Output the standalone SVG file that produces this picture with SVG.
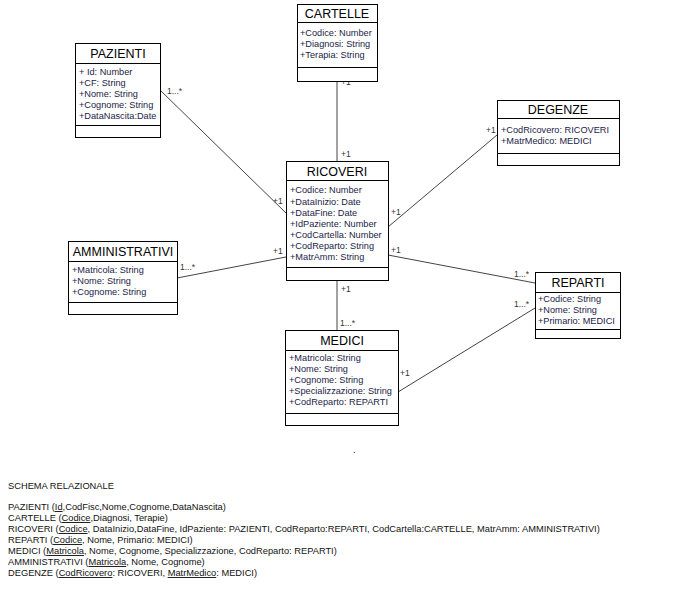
<svg xmlns="http://www.w3.org/2000/svg" width="700" height="596" viewBox="0 0 700 596">
<style>
.box{fill:#fff;stroke:#000;stroke-width:1}
.div{stroke:#000;stroke-width:1}
.t{font-family:"Liberation Sans",Arial,sans-serif;font-size:12.5px;fill:#000;text-anchor:middle}
.a{font-family:"Liberation Sans",Arial,sans-serif;font-size:9.2px;fill:#1c1c48}
.m{font-family:"Liberation Sans",Arial,sans-serif;font-size:8.5px;fill:#333}
.c{stroke:#444;stroke-width:1;fill:none}
.s{font-family:"Liberation Sans",Arial,sans-serif;font-size:9.3px;fill:#111}
.u{text-decoration:underline}
</style>
<rect width="700" height="596" fill="#fff"/>
<g id="connectors">
<line class="c" x1="337" y1="81" x2="337" y2="161"/>
<line class="c" x1="160" y1="90" x2="286" y2="213"/>
<line class="c" x1="497" y1="135" x2="388" y2="227"/>
<line class="c" x1="388" y1="255" x2="535" y2="283"/>
<line class="c" x1="398" y1="392" x2="535" y2="308"/>
<line class="c" x1="337" y1="280" x2="337" y2="330"/>
<line class="c" x1="177" y1="278" x2="286" y2="257"/>
<text class="m" x="341" y="85">+1</text>
<text class="m" x="341" y="157">+1</text>
<text class="m" x="167" y="94">1...*</text>
<text class="m" x="273" y="204">+1</text>
<text class="m" x="486" y="133">+1</text>
<text class="m" x="391" y="215">+1</text>
<text class="m" x="391" y="253">+1</text>
<text class="m" x="514" y="277">1...*</text>
<text class="m" x="514" y="307">1...*</text>
<text class="m" x="400" y="376">+1</text>
<text class="m" x="341" y="292">+1</text>
<text class="m" x="340" y="326">1...*</text>
<text class="m" x="180" y="270">1...*</text>
<text class="m" x="273" y="254">+1</text>
</g>
<g id="PAZIENTI">
<rect class="box" x="75.5" y="43.5" width="85" height="94"/>
<line class="div" x1="75.5" y1="63.5" x2="160.5" y2="63.5"/>
<line class="div" x1="75.5" y1="125.5" x2="160.5" y2="125.5"/>
<text class="t" x="118" y="58">PAZIENTI</text>
<text class="a" x="79" y="75">+ Id: Number</text>
<text class="a" x="79" y="86">+CF: String</text>
<text class="a" x="79" y="97">+Nome: String</text>
<text class="a" x="79" y="108">+Cognome: String</text>
<text class="a" x="79" y="119" fill="#34508c">+DataNascita:Date</text>
</g>
<g id="CARTELLE">
<rect class="box" x="297.5" y="4.5" width="80" height="77"/>
<line class="div" x1="297.5" y1="22.5" x2="377.5" y2="22.5"/>
<line class="div" x1="297.5" y1="67.5" x2="377.5" y2="67.5"/>
<text class="t" x="337" y="18">CARTELLE</text>
<text class="a" x="300" y="36">+Codice: Number</text>
<text class="a" x="300" y="47">+Diagnosi: String</text>
<text class="a" x="300" y="58">+Terapia: String</text>
</g>
<g id="DEGENZE">
<rect class="box" x="497.5" y="100.5" width="122" height="65"/>
<line class="div" x1="497.5" y1="118.5" x2="619.5" y2="118.5"/>
<line class="div" x1="497.5" y1="153.5" x2="619.5" y2="153.5"/>
<text class="t" x="558" y="114">DEGENZE</text>
<text class="a" x="501" y="133">+CodRicovero: RICOVERI</text>
<text class="a" x="501" y="144">+MatrMedico: MEDICI</text>
</g>
<g id="RICOVERI">
<rect class="box" x="286.5" y="161.5" width="102" height="119"/>
<line class="div" x1="286.5" y1="180.5" x2="388.5" y2="180.5"/>
<line class="div" x1="286.5" y1="267.5" x2="388.5" y2="267.5"/>
<text class="t" x="337" y="176">RICOVERI</text>
<text class="a" x="290" y="193">+Codice: Number</text>
<text class="a" x="290" y="205">+DataInizio: Date</text>
<text class="a" x="290" y="216">+DataFine: Date</text>
<text class="a" x="290" y="227">+IdPaziente: Number</text>
<text class="a" x="290" y="238">+CodCartella: Number</text>
<text class="a" x="290" y="249">+CodReparto: String</text>
<text class="a" x="290" y="260">+MatrAmm: String</text>
</g>
<g id="AMMINISTRATIVI">
<rect class="box" x="68.5" y="241.5" width="109" height="73"/>
<line class="div" x1="68.5" y1="261.5" x2="177.5" y2="261.5"/>
<line class="div" x1="68.5" y1="302.5" x2="177.5" y2="302.5"/>
<text class="t" x="123" y="256">AMMINISTRATIVI</text>
<text class="a" x="72" y="273">+Matricola: String</text>
<text class="a" x="72" y="284">+Nome: String</text>
<text class="a" x="72" y="295">+Cognome: String</text>
</g>
<g id="REPARTI">
<rect class="box" x="535.5" y="272.5" width="85" height="66"/>
<line class="div" x1="535.5" y1="292.5" x2="620.5" y2="292.5"/>
<line class="div" x1="535.5" y1="329.5" x2="620.5" y2="329.5"/>
<text class="t" x="578" y="287">REPARTI</text>
<text class="a" x="538" y="302">+Codice: String</text>
<text class="a" x="538" y="313">+Nome: String</text>
<text class="a" x="538" y="324">+Primario: MEDICI</text>
</g>
<g id="MEDICI">
<rect class="box" x="285.5" y="330.5" width="113" height="95"/>
<line class="div" x1="285.5" y1="350.5" x2="398.5" y2="350.5"/>
<line class="div" x1="285.5" y1="413.5" x2="398.5" y2="413.5"/>
<text class="t" x="342" y="345">MEDICI</text>
<text class="a" x="289" y="361">+Matricola: String</text>
<text class="a" x="289" y="372">+Nome: String</text>
<text class="a" x="289" y="383">+Cognome: String</text>
<text class="a" x="289" y="394">+Specializzazione: String</text>
<text class="a" x="289" y="405">+CodReparto: REPARTI</text>
</g>
<text class="s" x="353" y="453">.</text>
<g id="schema">
<text class="s" x="8" y="489">SCHEMA RELAZIONALE</text>
<text class="s" x="8" y="510">PAZIENTI (<tspan class="u">Id</tspan>,CodFisc,Nome,Cognome,DataNascita)</text>
<text class="s" x="8" y="521">CARTELLE (<tspan class="u">Codice</tspan>,Diagnosi, Terapie)</text>
<text class="s" x="8" y="532">RICOVERI (<tspan class="u">Codice</tspan>, DataInizio,DataFine, IdPaziente: PAZIENTI, CodReparto:REPARTI, CodCartella:CARTELLE, MatrAmm: AMMINISTRATIVI)</text>
<text class="s" x="8" y="543">REPARTI (<tspan class="u">Codice</tspan>, Nome, Primario: MEDICI)</text>
<text class="s" x="8" y="554">MEDICI (<tspan class="u">Matricola</tspan>, Nome, Cognome, Specializzazione, CodReparto: REPARTI)</text>
<text class="s" x="8" y="565">AMMINISTRATIVI (<tspan class="u">Matricola</tspan>, Nome, Cognome)</text>
<text class="s" x="8" y="576">DEGENZE (<tspan class="u">CodRicovero</tspan>: RICOVERI, <tspan class="u">MatrMedico</tspan>: MEDICI)</text>
</g>
</svg>
